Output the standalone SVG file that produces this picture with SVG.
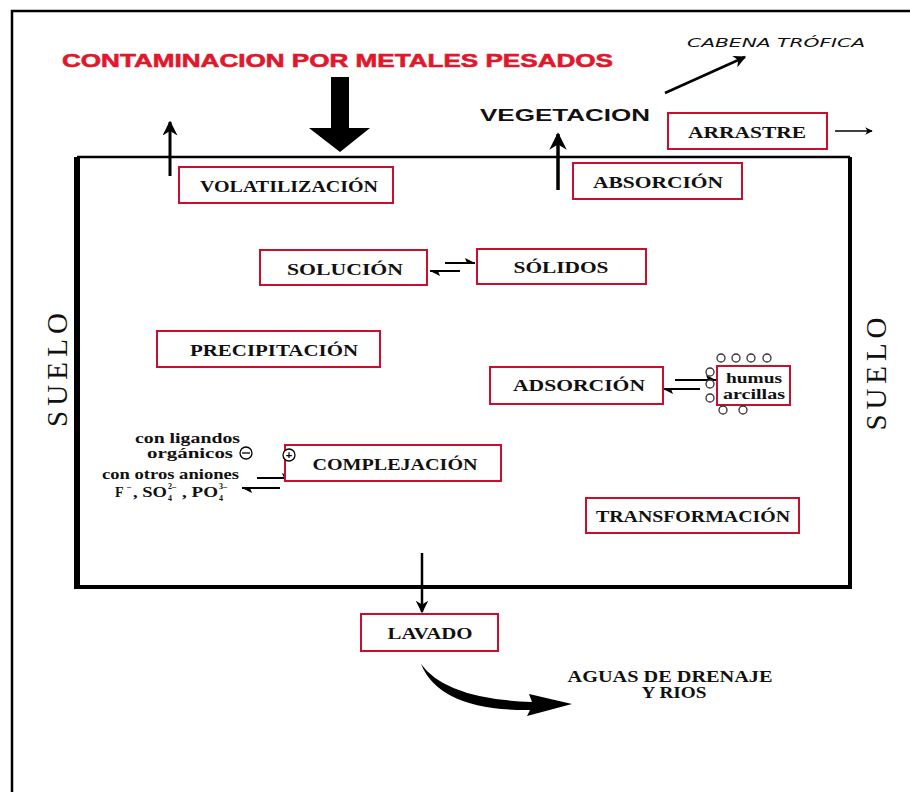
<svg xmlns="http://www.w3.org/2000/svg" width="910" height="792" viewBox="0 0 910 792">
<style>
.box{fill:#fff;stroke:#c8102e;stroke-width:2}
.lbl{font-family:"Liberation Serif",serif;font-weight:bold;font-size:16px;fill:#111;text-anchor:middle}
.small{font-family:"Liberation Serif",serif;font-weight:bold;font-size:14px;fill:#111}
.tiny{font-family:"Liberation Serif",serif;font-weight:bold;font-size:8px;fill:#111}
.ln{stroke:#000;fill:none}
.suelo{font-family:"Liberation Serif",serif;font-size:29px;fill:#111;text-anchor:middle}
</style>
<defs>
<marker id="ah" viewBox="0 0 10 10" refX="9" refY="5" markerWidth="5" markerHeight="5" orient="auto" markerUnits="strokeWidth">
<path d="M0,0 L10,5 L0,10 L3,5 Z" fill="#000"/>
</marker>
<marker id="half" viewBox="0 0 10 10" refX="10" refY="5" markerWidth="5" markerHeight="5" orient="auto" markerUnits="strokeWidth">
<path d="M0,0 L10,5 L2,5 Z" fill="#000"/>
</marker>
</defs>
<rect width="910" height="792" fill="#fff"/>
<path d="M12,792 V11 H910" stroke="#000" stroke-width="2.5" fill="none"/>
<g id="soil">
<path d="M77,587 V157" stroke="#000" stroke-width="6"/>
<path d="M77,157 H850" stroke="#000" stroke-width="2.5"/>
<path d="M850,157 V587" stroke="#000" stroke-width="4"/>
<path d="M74,587 H852" stroke="#000" stroke-width="4"/>
<text class="suelo" transform="translate(67,370) rotate(-90)" textLength="114" lengthAdjust="spacing">SUELO</text>
<text class="suelo" transform="translate(886,374) rotate(-90)" textLength="113" lengthAdjust="spacing">SUELO</text>
</g>
<g id="title">
<text x="62" y="67" textLength="551" lengthAdjust="spacingAndGlyphs" font-family="Liberation Sans, Arial, sans-serif" font-weight="bold" font-size="19" fill="#e0182d" stroke="#e0182d" stroke-width="0.6">CONTAMINACION POR METALES PESADOS</text>
</g>
<g id="connectors">
<path d="M331,77 H349 V128 H370 L340,152 L309,128 H331 Z" fill="#000"/>
<line class="ln" x1="170" y1="176" x2="170" y2="122" stroke-width="3" marker-end="url(#ah)"/>
<line class="ln" x1="558" y1="190" x2="558" y2="134" stroke-width="3.5" marker-end="url(#ah)"/>
<line class="ln" x1="665" y1="93" x2="745" y2="57" stroke-width="2.5" marker-end="url(#ah)"/>
<line class="ln" x1="835" y1="131" x2="872" y2="131" stroke-width="1.5" marker-end="url(#ah)"/>
<line class="ln" x1="445" y1="263" x2="475" y2="263" stroke-width="2" marker-end="url(#half)"/>
<line class="ln" x1="460" y1="271" x2="430" y2="271" stroke-width="2" marker-end="url(#half)"/>
<line class="ln" x1="675" y1="380" x2="716" y2="380" stroke-width="2" marker-end="url(#half)"/>
<line class="ln" x1="700" y1="389" x2="663" y2="389" stroke-width="2" marker-end="url(#half)"/>
<line class="ln" x1="257" y1="478" x2="292" y2="478" stroke-width="2" marker-end="url(#half)"/>
<line class="ln" x1="280" y1="488" x2="242" y2="488" stroke-width="2" marker-end="url(#half)"/>
<line class="ln" x1="422" y1="553" x2="422" y2="612" stroke-width="2.5" marker-end="url(#ah)"/>
<path d="M421,664 Q446,699 532,702 L529,694 L572,704 L527,716 L530,710 Q440,711 421,664 Z" fill="#000"/>
</g>
<g id="volatilizacion"><rect class="box" x="179" y="167" width="214" height="36"/><text class="lbl" x="289" y="192" textLength="178" lengthAdjust="spacingAndGlyphs">VOLATILIZACIÓN</text></g>
<g id="vegetacion"><text x="480" y="121" textLength="170" lengthAdjust="spacingAndGlyphs" font-family="Liberation Sans, Arial, sans-serif" font-weight="bold" font-size="17" fill="#111">VEGETACION</text></g>
<g id="cadena"><text x="687" y="47" textLength="178" lengthAdjust="spacingAndGlyphs" font-family="DejaVu Sans, sans-serif" font-style="italic" font-size="12" fill="#111">CABENA TRÓFICA</text></g>
<g id="arrastre"><rect class="box" x="668" y="113" width="159" height="36"/><text class="lbl" x="747" y="138" textLength="118" lengthAdjust="spacingAndGlyphs">ARRASTRE</text></g>
<g id="absorcion"><rect class="box" x="573" y="163" width="169" height="36"/><text class="lbl" x="658" y="188" textLength="130" lengthAdjust="spacingAndGlyphs">ABSORCIÓN</text></g>
<g id="solucion"><rect class="box" x="260" y="250" width="167" height="35"/><text class="lbl" x="345" y="275" textLength="116" lengthAdjust="spacingAndGlyphs">SOLUCIÓN</text></g>
<g id="solidos"><rect class="box" x="477" y="249" width="169" height="35"/><text class="lbl" x="561" y="273" textLength="95" lengthAdjust="spacingAndGlyphs">SÓLIDOS</text></g>
<g id="precipitacion"><rect class="box" x="157" y="331" width="223" height="36"/><text class="lbl" x="274" y="356" textLength="168" lengthAdjust="spacingAndGlyphs">PRECIPITACIÓN</text></g>
<g id="adsorcion"><rect class="box" x="490" y="367" width="173" height="37"/><text class="lbl" x="579" y="391" textLength="132" lengthAdjust="spacingAndGlyphs">ADSORCIÓN</text></g>
<g id="humus">
<rect class="box" x="717" y="366" width="73" height="39"/>
<text class="small" x="754" y="383" text-anchor="middle" textLength="56" lengthAdjust="spacingAndGlyphs">humus</text>
<text class="small" x="754" y="399" text-anchor="middle" textLength="62" lengthAdjust="spacingAndGlyphs">arcillas</text>
<g fill="#fff" stroke="#333" stroke-width="1.3">
<circle cx="721" cy="358" r="4"/><circle cx="736" cy="358" r="4"/><circle cx="751" cy="358" r="4"/><circle cx="767" cy="358" r="4"/>
<circle cx="710" cy="372" r="4"/><circle cx="710" cy="384" r="4"/><circle cx="710" cy="398" r="4"/>
<circle cx="723" cy="410" r="4"/><circle cx="743" cy="410" r="4"/>
</g>
</g>
<g id="complejacion">
<rect class="box" x="285" y="445" width="216" height="36"/>
<text class="lbl" x="395" y="470" textLength="165" lengthAdjust="spacingAndGlyphs">COMPLEJACIÓN</text>
<circle cx="289" cy="455" r="6" fill="#fff" stroke="#000" stroke-width="1.3"/>
<text x="289" y="459" font-family="Liberation Sans, sans-serif" font-weight="bold" font-size="11" text-anchor="middle" fill="#000">+</text>
</g>
<g id="ligandos">
<text class="small" x="135" y="443" textLength="105" lengthAdjust="spacingAndGlyphs">con ligandos</text>
<text class="small" x="147" y="458" textLength="86" lengthAdjust="spacingAndGlyphs">orgánicos</text>
<circle cx="246" cy="453" r="6" fill="#fff" stroke="#000" stroke-width="1.3"/>
<line x1="242" y1="453" x2="250" y2="453" stroke="#000" stroke-width="1.3"/>
</g>
<g id="aniones">
<text class="small" x="102" y="479" font-size="13" textLength="137" lengthAdjust="spacingAndGlyphs">con otros aniones</text>
<text class="small" x="115" y="497" font-size="16">F</text>
<text class="tiny" x="127" y="489" font-size="9">–</text>
<text class="small" x="133" y="497" font-size="16" textLength="34" lengthAdjust="spacingAndGlyphs">, SO</text>
<text class="tiny" x="168" y="489">2–</text>
<text class="tiny" x="168" y="501">4</text>
<text class="small" x="182" y="497" font-size="16" textLength="36" lengthAdjust="spacingAndGlyphs">, PO</text>
<text class="tiny" x="219" y="489">3–</text>
<text class="tiny" x="219" y="501">4</text>
</g>
<g id="transformacion"><rect class="box" x="586" y="498" width="213" height="35"/><text class="lbl" x="693" y="522" textLength="194" lengthAdjust="spacingAndGlyphs">TRANSFORMACIÓN</text></g>
<g id="lavado"><rect class="box" x="361" y="614" width="137" height="37"/><text class="lbl" x="430" y="639" textLength="85" lengthAdjust="spacingAndGlyphs">LAVADO</text></g>
<g id="aguas">
<text class="lbl" x="670" y="682" font-size="14" textLength="205" lengthAdjust="spacingAndGlyphs">AGUAS DE DRENAJE</text>
<text class="lbl" x="674" y="698" font-size="14" textLength="65" lengthAdjust="spacingAndGlyphs">Y RIOS</text>
</g>
</svg>
